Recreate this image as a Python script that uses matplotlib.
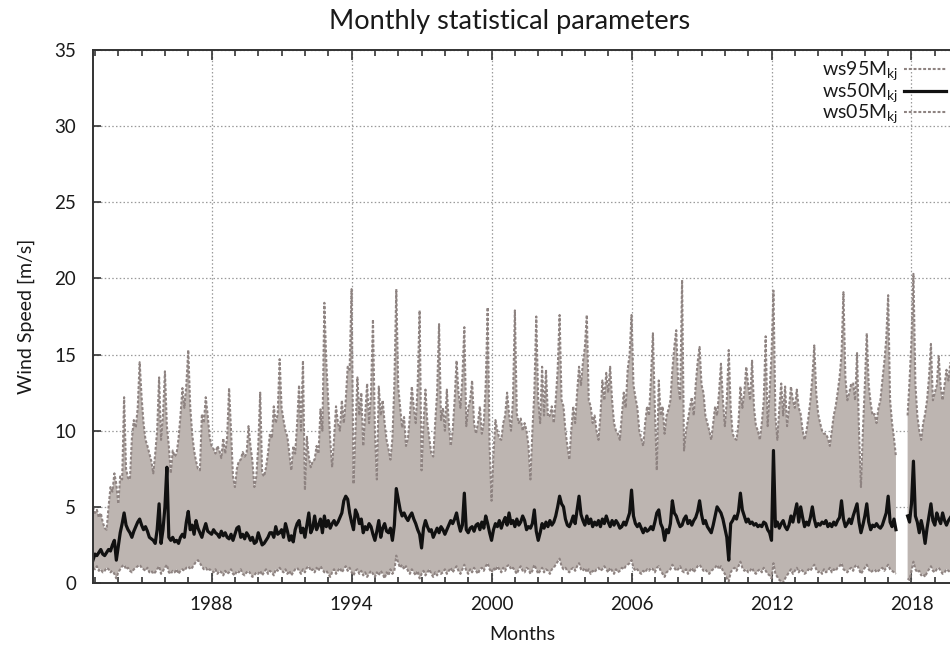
import numpy as np
import matplotlib.pyplot as plt
from matplotlib.ticker import MultipleLocator

plt.rcParams['font.family'] = ['Lato', 'DejaVu Sans']

nan = np.nan

# monthly 95th percentile of wind speed (m/s), one row per year of records
ws95 = [
    5.0, 4.6, 4.8, 4.3, 4.6, 4.0, 3.6, 3.5, 5.0, 6.3, 6.0, 7.2,
    6.5, 5.2, 7.0, 6.8, 12.2, 7.5, 6.9, 6.8, 9.5, 10.7, 10.2, 11.5,
    14.5, 12.2, 10.5, 9.4, 9.0, 8.5, 8.0, 7.2, 8.5, 10.0, 13.5, 9.4,
    11.0, 13.9, 10.3, 9.0, 7.2, 8.7, 8.3, 8.5, 9.5, 11.0, 12.8, 11.5,
    13.0, 15.3, 11.6, 9.8, 8.7, 8.0, 7.5, 7.4, 11.1, 10.5, 12.2, 11.0,
    9.6, 9.0, 8.8, 8.5, 9.0, 8.7, 8.2, 9.5, 8.5, 9.6, 12.8, 10.0,
    7.0, 6.3, 7.5, 8.0, 8.1, 8.6, 8.3, 8.5, 10.3, 9.0, 8.0, 6.3,
    7.0, 9.0, 12.5, 7.2, 7.0, 7.6, 8.5, 9.8, 9.5, 11.6, 10.5, 11.1,
    14.7, 11.5, 10.7, 10.0, 9.6, 8.5, 7.4, 9.0, 8.5, 10.5, 13.0, 10.0,
    14.6, 6.1, 9.6, 8.3, 7.6, 8.0, 8.1, 9.0, 8.5, 11.4, 10.0, 18.4,
    14.5, 12.0, 9.4, 7.6, 9.5, 11.6, 10.5, 10.0, 12.0, 10.5, 12.0, 14.2,
    14.0, 19.3, 6.5, 10.0, 13.5, 11.0, 12.5, 9.0, 11.0, 13.1, 10.5, 12.5,
    17.3, 10.0, 6.8, 12.9, 11.0, 12.0, 10.5, 9.4, 8.8, 8.1, 9.5, 13.0,
    19.3, 12.9, 11.5, 10.2, 10.9, 9.0, 9.5, 11.0, 12.9, 11.5, 10.5, 13.0,
    17.9, 7.4, 10.5, 12.7, 10.5, 9.5, 8.5, 8.3, 10.5, 12.5, 17.0, 10.7,
    11.5, 10.0, 12.7, 10.5, 9.0, 10.0, 12.0, 14.6, 12.5, 11.5, 13.5, 16.8,
    10.3, 11.5, 12.0, 13.3, 10.5, 9.8, 10.5, 11.6, 9.8, 10.5, 13.0, 18.1,
    9.0, 5.4, 8.5, 10.7, 10.0, 9.5, 9.4, 10.5, 11.0, 12.5, 11.1, 10.0,
    12.0, 17.9, 11.1, 10.5, 10.8, 10.0, 10.5, 10.0, 9.0, 6.8, 10.0, 12.5,
    17.5, 12.0, 10.5, 14.2, 11.0, 14.0, 10.9, 11.0, 11.6, 10.5, 12.0, 14.0,
    17.6, 12.0, 11.6, 10.0, 9.0, 8.1, 10.0, 11.6, 10.5, 12.5, 14.2, 13.0,
    14.5, 15.5, 17.6, 12.0, 11.6, 10.5, 11.0, 10.0, 9.4, 11.0, 13.3, 12.0,
    13.8, 12.5, 14.2, 12.0, 10.5, 10.0, 9.8, 9.4, 11.0, 12.5, 11.5, 14.0,
    15.0, 17.6, 13.0, 12.2, 11.5, 10.0, 9.5, 9.0, 10.5, 11.6, 11.0, 13.5,
    16.4, 11.5, 7.4, 13.3, 11.0, 11.6, 9.8, 11.0, 11.4, 12.0, 14.0, 15.5,
    16.6, 13.0, 12.0, 19.9, 8.7, 10.0, 10.7, 11.5, 12.2, 11.0, 13.0, 14.5,
    15.5, 13.0, 12.5, 11.0, 10.5, 10.0, 9.4, 10.5, 11.6, 11.0, 12.5, 14.4,
    12.0, 10.3, 12.0, 15.3, 11.5, 9.8, 9.5, 9.4, 10.5, 12.9, 11.5, 12.5,
    14.2, 13.0, 12.0, 14.6, 11.5, 10.3, 10.0, 9.4, 10.5, 12.0, 16.2, 10.3,
    12.5, 15.0, 19.2, 11.0, 9.4, 11.5, 13.1, 11.0, 12.9, 10.3, 11.5, 12.9,
    12.0, 11.5, 12.7, 11.5, 11.1, 10.0, 9.4, 10.0, 10.9, 12.0, 13.5, 15.6,
    12.5, 11.1, 10.5, 10.0, 9.8, 9.8, 9.5, 9.0, 10.0, 11.0, 11.6, 12.5,
    13.5, 15.0, 19.1, 13.5, 12.0, 12.5, 13.1, 13.1, 12.0, 15.1, 10.0, 6.3,
    10.0, 13.0, 16.4, 13.0, 11.8, 11.0, 11.1, 10.5, 11.5, 12.0, 13.3, 14.5,
    16.0, 18.9, 12.0, 10.5, 9.5, 8.3, nan, nan, nan, nan, nan, 11.0,
    13.3, 16.0, 20.3, 13.1, 11.0, 10.0, 9.4, 10.5, 11.1, 12.0, 13.5, 15.7,
    12.0, 12.5, 13.0, 14.9, 12.9, 12.0, 13.0, 14.0, 13.3, 14.5,
]

# monthly median
ws50 = [
    1.5, 1.9, 1.8, 2.0, 2.2, 1.9, 1.8, 2.0, 2.2, 2.1, 2.5, 2.8,
    1.5, 2.4, 3.3, 3.9, 4.6, 3.8, 3.5, 3.3, 3.0, 3.4, 3.7, 4.0,
    4.2, 3.8, 3.5, 3.7, 3.4, 3.0, 2.9, 2.8, 2.6, 3.5, 5.2, 2.6,
    3.5, 5.0, 7.6, 3.0, 2.8, 3.0, 2.7, 2.8, 2.6, 3.0, 3.2, 3.0,
    4.0, 4.7, 3.5, 3.8, 3.2, 4.1, 3.6, 3.3, 3.0, 3.5, 3.9, 3.4,
    3.3, 3.2, 3.5, 3.3, 3.2, 3.0, 3.4, 3.1, 3.3, 3.0, 2.9, 3.2,
    2.8, 3.2, 3.6, 3.7, 3.0, 3.2, 2.9, 3.3, 3.1, 2.8, 3.0, 2.6,
    2.7, 3.3, 2.9, 2.5, 2.6, 2.8, 3.0, 3.3, 3.3, 3.0, 3.7, 3.2,
    3.3, 3.5, 3.0, 3.9, 3.4, 2.8, 3.1, 2.7, 3.5, 3.9, 4.1, 3.3,
    3.6, 3.0, 3.8, 4.6, 3.3, 3.6, 4.4, 3.5, 3.8, 4.2, 3.3, 4.4,
    3.7, 4.1, 3.6, 3.9, 4.1, 3.8, 4.0, 4.3, 4.6, 5.4, 5.7, 5.5,
    4.6, 4.0, 3.5, 4.8, 4.5, 3.9, 4.2, 3.3, 3.7, 3.5, 3.9, 3.7,
    3.2, 2.8, 3.4, 4.1, 3.0, 3.6, 3.9, 3.4, 3.3, 3.6, 2.8, 3.8,
    6.2, 5.5, 4.8, 4.4, 4.6, 4.3, 4.1, 4.4, 4.6, 4.2, 3.9, 3.5,
    3.2, 2.3, 3.6, 4.1, 3.7, 3.4, 3.5, 3.0, 3.3, 3.6, 3.3, 3.7,
    3.5, 3.2, 3.5, 3.8, 4.1, 3.9, 4.2, 4.6, 3.9, 3.4, 3.8, 5.9,
    3.5, 3.3, 3.6, 3.7, 3.4, 3.8, 3.9, 3.5, 4.0, 3.6, 4.4, 3.9,
    3.3, 2.8, 3.5, 3.9, 3.7, 4.1, 3.6, 4.0, 4.3, 3.8, 4.6, 3.9,
    4.1, 3.7, 4.2, 3.8, 4.0, 4.4, 4.1, 3.5, 3.7, 3.6, 3.9, 4.8,
    3.4, 2.8, 3.3, 3.9, 3.6, 4.0, 3.7, 4.1, 3.8, 4.0, 4.4, 5.0,
    5.7, 5.2, 5.0, 4.2, 3.8, 3.7, 4.0, 4.4, 3.9, 4.8, 5.7, 4.5,
    4.1, 3.8, 4.4, 3.9, 4.2, 3.7, 4.0, 3.8, 4.1, 3.7, 4.2, 3.9,
    4.4, 4.0, 3.7, 4.1, 3.8, 4.1, 3.9, 3.6, 3.7, 4.0, 3.8, 4.2,
    4.6, 6.1, 4.4, 3.9, 3.7, 3.9, 3.6, 3.3, 3.6, 3.4, 3.5, 3.7,
    3.5, 4.0, 4.6, 4.8, 3.9, 3.6, 2.8, 3.5, 3.3, 3.9, 5.4, 4.6,
    4.4, 4.0, 3.7, 3.8, 4.2, 4.4, 3.9, 4.1, 3.8, 4.1, 4.3, 4.7,
    5.4, 4.5, 3.9, 4.1, 3.7, 3.5, 3.3, 3.8, 4.4, 5.0, 4.8, 4.6,
    4.2, 3.6, 3.0, 1.5, 3.9, 4.1, 4.4, 4.2, 4.7, 5.9, 4.8, 4.4,
    4.0, 4.2, 3.9, 4.0, 3.8, 3.9, 3.7, 3.8, 3.7, 4.0, 3.9, 3.5,
    3.3, 2.8, 8.7, 3.7, 4.0, 3.6, 3.9, 4.1, 3.7, 3.5, 3.8, 4.4,
    4.0, 4.6, 5.2, 4.0, 5.0, 4.3, 3.7, 4.0, 3.8, 4.3, 5.0, 4.2,
    3.7, 3.9, 3.8, 4.0, 3.9, 4.1, 3.7, 3.9, 3.7, 4.0, 3.8, 4.1,
    4.3, 5.4, 4.2, 3.7, 3.9, 4.2, 3.9, 4.4, 4.8, 5.2, 4.0, 3.3,
    3.8, 4.4, 5.2, 4.0, 3.5, 3.8, 3.7, 3.9, 3.7, 3.6, 3.8, 4.2,
    4.6, 5.7, 4.0, 3.7, 4.2, 3.5, nan, nan, nan, nan, nan, 4.4,
    4.0, 5.2, 8.0, 4.4, 4.0, 3.3, 4.1, 3.5, 2.6, 3.6, 4.4, 5.2,
    4.1, 3.8, 4.6, 4.2, 3.9, 4.6, 4.1, 3.8, 4.1, 4.3,
]

# monthly 5th percentile
ws05 = [
    1.0, 0.9, 1.1, 0.8, 0.9, 0.7, 0.8, 1.0, 0.9, 0.7, 0.8, 0.6,
    0.3, 0.7, 0.9, 1.1, 1.2, 0.9, 1.0, 0.8, 0.7, 0.9, 1.0, 1.1,
    1.2, 1.0, 0.9, 0.8, 1.0, 0.7, 0.8, 0.6, 0.7, 0.9, 1.1, 0.6,
    0.8, 1.0, 1.2, 0.7, 0.6, 0.8, 0.7, 0.9, 0.6, 0.8, 0.9, 0.8,
    1.0, 1.1, 0.9, 1.0, 1.2, 1.4, 1.5, 1.3, 1.1, 0.9, 1.0, 0.8,
    0.9, 0.8, 0.7, 0.9, 0.6, 0.8, 0.7, 0.5, 0.8, 0.6, 0.7, 0.9,
    0.6, 0.5, 0.8, 0.7, 0.9, 0.6, 0.5, 0.7, 0.8, 0.6, 0.4, 0.5,
    0.7, 0.6, 0.8, 0.5, 0.7, 0.9, 0.6, 0.8, 0.7, 0.5, 0.9, 0.8,
    1.0, 0.8, 0.7, 0.9, 0.6, 0.8, 0.5, 0.7, 0.9, 1.0, 0.8, 0.6,
    0.9, 0.7, 1.0, 1.1, 0.8, 0.9, 0.7, 1.0, 0.8, 1.1, 0.9, 0.7,
    0.8, 0.6, 0.4, 0.7, 0.9, 0.6, 0.8, 1.0, 0.7, 0.9, 1.1, 0.8,
    1.0, 0.7, 0.5, 0.8, 0.9, 0.6, 0.8, 0.5, 0.7, 0.4, 0.6, 0.8,
    0.6, 0.4, 0.7, 0.5, 0.8, 0.6, 0.3, 0.7, 0.5, 0.9, 0.6, 0.8,
    1.8, 1.3, 1.0, 1.2, 0.9, 1.1, 0.8, 0.6, 0.9, 0.7, 0.5, 0.8,
    0.3, 0.6, 0.8, 0.5, 0.7, 0.9, 0.6, 0.4, 0.7, 0.5, 0.8, 0.6,
    0.7, 0.9, 0.6, 0.8, 1.0, 0.7, 0.9, 1.1, 0.8, 0.6, 0.9, 1.2,
    0.8, 0.6, 0.9, 0.7, 1.0, 0.8, 0.6, 0.9, 1.0, 0.8, 1.1, 1.3,
    0.9, 0.7, 1.0, 0.8, 1.1, 0.9, 0.7, 1.0, 0.8, 1.1, 1.2, 0.9,
    1.0, 0.8, 0.6, 0.9, 1.1, 0.8, 0.7, 1.0, 0.9, 0.6, 0.8, 1.2,
    0.9, 0.6, 0.8, 1.0, 0.7, 0.9, 0.8, 0.6, 0.9, 1.0, 1.2, 1.4,
    1.6, 1.1, 0.9, 1.0, 0.8, 0.7, 0.9, 1.0, 0.8, 1.1, 1.3, 0.9,
    0.8, 1.0, 0.7, 0.9, 0.6, 0.8, 0.7, 0.9, 1.0, 0.8, 0.9, 1.1,
    0.9, 0.7, 1.0, 0.8, 0.6, 0.9, 0.7, 0.8, 1.0, 0.9, 1.1, 1.2,
    1.3, 1.5, 1.0, 0.8, 0.9, 0.7, 0.6, 0.8, 0.7, 0.9, 0.8, 1.0,
    0.9, 0.7, 1.0, 1.1, 0.8, 0.6, 0.4, 0.7, 0.8, 0.9, 1.2, 1.0,
    0.8, 0.9, 1.1, 0.8, 0.7, 0.9, 0.6, 0.8, 1.0, 0.7, 0.9, 1.1,
    1.2, 1.0, 0.8, 0.9, 0.7, 0.6, 0.8, 0.9, 1.0, 1.2, 0.9, 1.1,
    0.8, 0.6, 0.3, 0.1, 0.7, 0.9, 1.0, 0.8, 1.1, 1.4, 1.0, 0.8,
    0.9, 0.7, 0.8, 1.0, 0.7, 0.6, 0.8, 0.9, 0.7, 1.0, 0.8, 0.6,
    0.5, 0.3, 1.3, 0.6, 0.4, 0.2, 0.1, 0.0, 0.3, 0.5, 0.7, 0.9,
    0.6, 0.8, 1.0, 0.7, 0.9, 0.8, 0.6, 0.7, 0.9, 0.8, 1.0, 1.2,
    0.9, 0.7, 0.8, 0.6, 0.9, 0.7, 0.8, 1.0, 0.7, 0.9, 0.8, 1.0,
    1.1, 1.3, 0.9, 0.8, 0.7, 0.9, 1.0, 0.8, 1.1, 1.2, 0.9, 0.6,
    0.8, 1.0, 1.2, 0.9, 0.7, 0.8, 0.9, 0.7, 0.8, 0.9, 1.0, 0.8,
    1.0, 1.2, 0.9, 0.8, 0.7, 0.6, nan, nan, nan, nan, nan, 0.3,
    0.2, 0.8, 1.4, 0.9, 0.7, 0.8, 0.5, 0.6, 0.4, 0.7, 0.9, 1.1,
    0.8, 0.7, 0.9, 1.0, 0.8, 0.6, 0.7, 0.9, 0.8, 0.7,
]

year_ticks = [1988, 1994, 2000, 2006, 2012, 2018]
start = 1982 + 11 / 12.0   # first record: December 1982

ws95 = np.array(ws95)
ws50 = np.array(ws50)
ws05 = np.array(ws05)
t = start + np.arange(len(ws50)) / 12.0

fig = plt.figure(figsize=(9.5, 6.46), dpi=100)
ax = fig.add_axes([93 / 950, 63 / 646, 858 / 950, 533 / 646])

band = '#bdb5b1'
edge = '#8e8381'
dots = (0, (1.4, 0.9))
ax.fill_between(t, ws05, ws95, color=band, linewidth=0, zorder=1)
ax.plot(t, ws95, color=edge, lw=1.5, ls=dots, zorder=2, label=r'ws95M$_{\mathregular{kj}}$')
ax.plot(t, ws50, color='#111111', lw=2.3, zorder=3, label=r'ws50M$_{\mathregular{kj}}$')
ax.plot(t, ws05, color=edge, lw=1.5, ls=dots, zorder=2, label=r'ws05M$_{\mathregular{kj}}$')

ax.set_xlim(start, start + 858 / 23.33)
ax.set_ylim(0, 35)
ax.set_xticks(year_ticks)
ax.xaxis.set_minor_locator(MultipleLocator(1))
ax.set_yticks(range(0, 36, 5))

ax.set_axisbelow(True)
ax.grid(True, which='major', color='#9a9a9a', ls=(0, (1.2, 1.8)), lw=0.9)

for s in ['left', 'bottom', 'top']:
    ax.spines[s].set_color('#333333')
    ax.spines[s].set_linewidth(1.4)
    ax.spines[s].set_zorder(5)
ax.spines['right'].set_visible(False)

ax.tick_params(which='both', direction='in', top=True, right=False, colors='#333333',
               labelcolor='#1a1a1a', labelsize=13.5, width=1.2)
ax.tick_params(axis='x', which='major', length=7, pad=9)
ax.tick_params(axis='x', which='minor', length=4)
ax.tick_params(axis='y', which='major', length=6, pad=12)

ax.set_xlabel('Months', fontsize=14, color='#1a1a1a', labelpad=10)
ax.set_ylabel('Wind Speed [m/s]', fontsize=14, color='#1a1a1a', labelpad=14)
fig.text(510 / 950, 1 - 22 / 646, 'Monthly statistical parameters', ha='center', va='center',
         fontsize=19.5, color='#1a1a1a')

leg = ax.legend(loc='upper right', bbox_to_anchor=(1.0, 0.99), frameon=False, markerfirst=False,
                fontsize=14, handlelength=2.15, handletextpad=0.3, labelspacing=-0.1,
                borderpad=0.0, borderaxespad=0.25)
for txt in leg.get_texts():
    txt.set_color('#1a1a1a')

fig.savefig('out.png', dpi=100)
